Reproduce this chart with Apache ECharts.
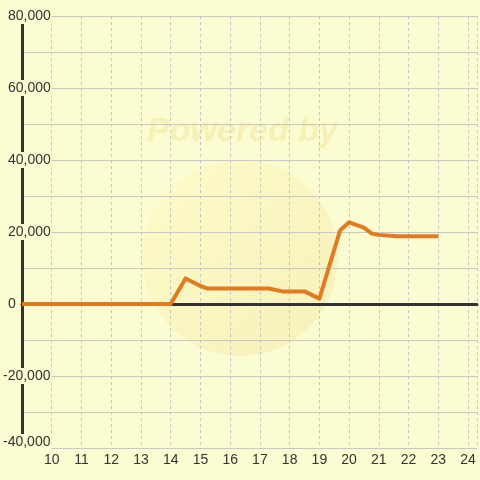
<!DOCTYPE html>
<html>
<head>
<meta charset="utf-8">
<script src="https://cdn.jsdelivr.net/npm/echarts@6/dist/echarts.min.js"></script>
<style>html,body{margin:0;padding:0;background:#fcfcd2;}#c{width:480px;height:480px;}</style>
</head>
<body>
<div id="c"></div>
<script>
var hours  = [9, 14, 14.5, 15, 15.25, 17.3, 17.75, 18.5, 19, 19.7, 20, 20.5, 20.75, 21, 21.6, 23];
var values = [0, 0, 7100, 5000, 4300, 4300, 3500, 3500, 1500, 20500, 22700, 21200, 19600, 19200, 18800, 18800];
var xTicks = [10, 11, 12, 13, 14, 15, 16, 17, 18, 19, 20, 21, 22, 23, 24];
var yMin = -40000, yMax = 80000, yStep = 20000;

var BG = '#fcfcd2';
var FONT = '"Liberation Sans", Arial, sans-serif';
var chart = echarts.init(document.getElementById('c'));
var data = hours.map(function (h, i) { return [h, values[i]]; });
chart.setOption({
  backgroundColor: BG,
  animation: false,
  graphic: [
    { type: 'circle', shape: { cx: 240, cy: 258, r: 98 }, z: -10,
      style: { fill: new echarts.graphic.LinearGradient(0, 0, 1, 1, [
        { offset: 0, color: 'rgba(255,250,190,0.45)' },
        { offset: 1, color: 'rgba(240,225,150,0.4)' }]) } },
    { type: 'text', left: 147, top: 115, z: -10,
      style: { text: 'Powered by', font: 'italic bold 34px ' + FONT,
               fill: 'rgba(235,215,120,0.33)' } }
  ],
  grid: { left: 21, right: 0, top: 16, bottom: 32, containLabel: false },
  xAxis: [{
    type: 'value', min: 9, max: 24.3, interval: 1, position: 'bottom',
    axisLine: { show: false, onZero: false },
    axisTick: { show: false },
    axisLabel: { color: '#333', fontSize: 14, fontFamily: FONT, margin: 5,
      formatter: function (v) { return xTicks.indexOf(v) >= 0 ? String(v) : ''; } },
    splitLine: { show: true, lineStyle: { color: '#c4c4c4', type: [3, 3], width: 1 } }
  }, {
    type: 'value', min: 9, max: 24.3, interval: 1, position: 'top',
    axisLine: { show: true, onZero: true, lineStyle: { color: '#333', width: 3 } },
    axisTick: { show: false }, axisLabel: { show: false }, splitLine: { show: false }
  }],
  yAxis: {
    type: 'value', min: yMin, max: yMax, interval: yStep,
    axisLine: { show: true, lineStyle: { color: '#333', width: 3 } },
    axisTick: { show: false },
    minorTick: { show: false, splitNumber: 2 },
    minorSplitLine: { show: true, lineStyle: { color: '#c8c8c8', width: 1 } },
    splitLine: { show: true, lineStyle: { color: '#c8c8c8', width: 1 } },
    axisLabel: { color: '#333', fontSize: 14, fontFamily: FONT,
      margin: 19, align: 'left',
      backgroundColor: BG, padding: [1, 1, 1, 0],
      rich: {
        p: { color: '#333', fontSize: 14, fontFamily: FONT, padding: [0, 0, 0, 5] },
        n: { color: '#333', fontSize: 14, fontFamily: FONT },
        m: { color: '#333', fontSize: 14, fontFamily: FONT, padding: [0, 0, 12, 0] }
      },
      formatter: function (v) {
        var s = v.toLocaleString('en-US');
        if (v === yMin) return '{m|' + s + '}';
        return v < 0 ? '{n|' + s + '}' : '{p|' + s + '}';
      } }
  },
  series: [{
    type: 'line', xAxisIndex: 0, data: data, symbol: 'none', smooth: false,
    lineStyle: { color: '#e07b22', width: 4, join: 'round' }, z: 5
  }]
});
</script>
</body>
</html>
